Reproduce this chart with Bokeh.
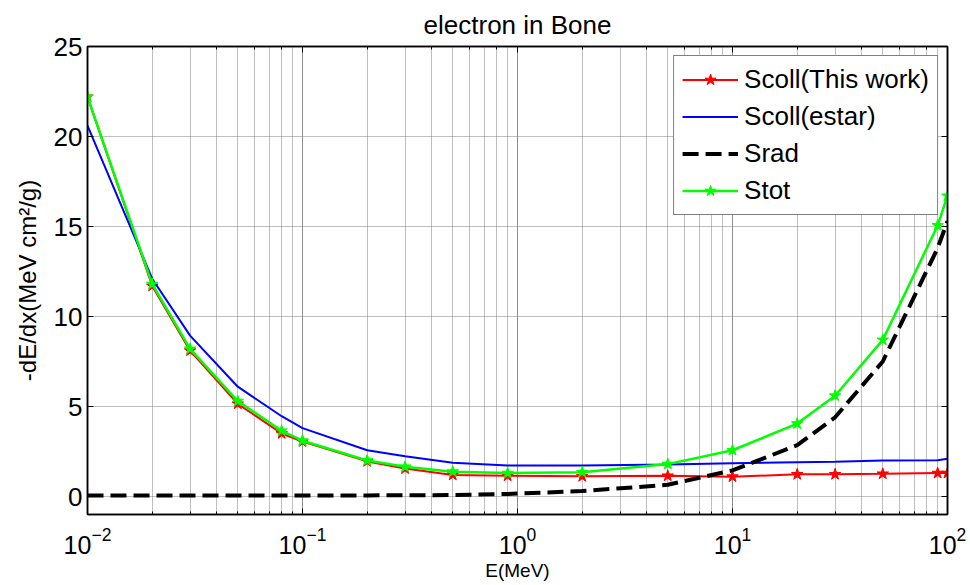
from bokeh.plotting import figure
from bokeh.models import LinearAxis, LogAxis, Range1d, FixedTicker, Legend, LegendItem
from bokeh.embed import file_html
from bokeh.resources import INLINE

# ---------------- data ----------------
energy = [0.01, 0.02, 0.03, 0.05, 0.08, 0.1, 0.2, 0.3, 0.5, 0.9, 2, 5, 10, 20, 30, 50, 90, 100]
scoll_this = [22.2, 11.7, 8.1, 5.15, 3.5, 3.05, 1.95, 1.55, 1.2, 1.15, 1.12, 1.15, 1.1, 1.23, 1.23, 1.26, 1.3, 1.3]
scoll_estar = [20.6, 12.1, 8.94, 6.1, 4.46, 3.8, 2.57, 2.24, 1.87, 1.72, 1.72, 1.78, 1.85, 1.9, 1.93, 2.0, 2.02, 2.1]
srad = [0.05, 0.05, 0.05, 0.05, 0.05, 0.05, 0.06, 0.07, 0.08, 0.14, 0.3, 0.65, 1.45, 2.85, 4.4, 7.5, 13.8, 15.3]
stot = [22.2, 11.8, 8.2, 5.3, 3.65, 3.1, 2.0, 1.65, 1.38, 1.3, 1.35, 1.8, 2.57, 4.05, 5.6, 8.7, 15.06, 16.7]
y_ticks = [0, 5, 10, 15, 20, 25]

FONT = "Liberation Sans"

p = figure(width=970, height=585, x_axis_type="log",
           x_range=Range1d(0.01, 100), y_range=Range1d(-1, 25),
           output_backend="svg", toolbar_location=None,
           min_border_left=87, min_border_right=23, min_border_top=44, min_border_bottom=71,
           title="electron in Bone")
p.title.align = "center"
p.title.text_font = FONT
p.title.text_font_size = "26px"
p.title.text_font_style = "normal"
p.title.text_color = "black"
p.title.offset = 0
p.title.standoff = 14
p.outline_line_color = "black"
p.outline_line_width = 1.5

# axes styling
def style_axis(ax, labels=True):
    ax.major_tick_in = 6
    ax.major_tick_out = 0
    ax.minor_tick_in = 3
    ax.minor_tick_out = 0
    ax.axis_line_color = "black"
    ax.axis_line_width = 1.5
    ax.major_tick_line_color = "black"
    ax.minor_tick_line_color = "black"
    ax.major_label_text_font = FONT
    ax.major_label_text_color = "black"
    ax.axis_label_text_color = "black"
    if not labels:
        ax.major_label_text_font_size = "1px"
        ax.major_label_text_alpha = 0
        ax.major_label_standoff = 0

xa = p.xaxis[0]
style_axis(xa)
xa.major_label_text_font_size = "25px"
xa.major_label_standoff = 12
xa.axis_label = "E(MeV)"
xa.axis_label_text_font = FONT
xa.axis_label_text_font_size = "19px"
xa.axis_label_text_font_style = "normal"
xa.axis_label_standoff = 3

ya = p.yaxis[0]
style_axis(ya)
ya.ticker = FixedTicker(ticks=y_ticks)
ya.minor_tick_line_color = None
ya.major_label_text_font_size = "26px"
ya.major_label_standoff = 5
ya.axis_label = "-dE/dx(MeV cm²/g)"
ya.axis_label_text_font = FONT
ya.axis_label_text_font_size = "24px"
ya.axis_label_text_font_style = "normal"
ya.axis_label_standoff = 10

top = LogAxis()
style_axis(top, labels=False)
p.add_layout(top, "above")
right = LinearAxis(ticker=FixedTicker(ticks=y_ticks))
style_axis(right, labels=False)
right.minor_tick_line_color = None
p.add_layout(right, "right")

# grids
p.xgrid.grid_line_color = "#7f7f7f"
p.xgrid.grid_line_dash = "1 1"
p.xgrid.minor_grid_line_color = "#7f7f7f"
p.xgrid.minor_grid_line_dash = "1 1"
p.ygrid.grid_line_color = "#7f7f7f"
p.ygrid.grid_line_dash = "1 1"
p.ygrid.ticker = FixedTicker(ticks=y_ticks)

# series
r_red = p.line(energy, scoll_this, line_color="#ff0000", line_width=2)
m_red = p.scatter(energy, scoll_this, marker="star", size=12, fill_color="#ff0000", line_color="#ff0000")
r_blue = p.line(energy, scoll_estar, line_color="#0000ff", line_width=2)
r_black = p.line(energy, srad, line_color="black", line_width=4, line_dash="16 7")
r_green = p.line(energy, stot, line_color="#00ff00", line_width=2.5)
m_green = p.scatter(energy, stot, marker="star", size=12, fill_color="#00ff00", line_color="#00ff00")

legend = Legend(items=[
    LegendItem(label="Scoll(This work)", renderers=[r_red, m_red]),
    LegendItem(label="Scoll(estar)", renderers=[r_blue]),
    LegendItem(label="Srad", renderers=[r_black]),
    LegendItem(label="Stot", renderers=[r_green, m_green]),
], location="top_right")
legend.label_text_font = FONT
legend.label_text_font_size = "26px"
legend.label_text_color = "black"
legend.glyph_width = 56
legend.glyph_height = 29
legend.label_height = 29
legend.label_standoff = 6
legend.spacing = 6
legend.padding = 8
legend.margin = 9
legend.border_line_color = "black"
legend.border_line_width = 1
legend.background_fill_alpha = 1
p.add_layout(legend, "center")

open("out.html", "w").write(file_html(p, INLINE))
